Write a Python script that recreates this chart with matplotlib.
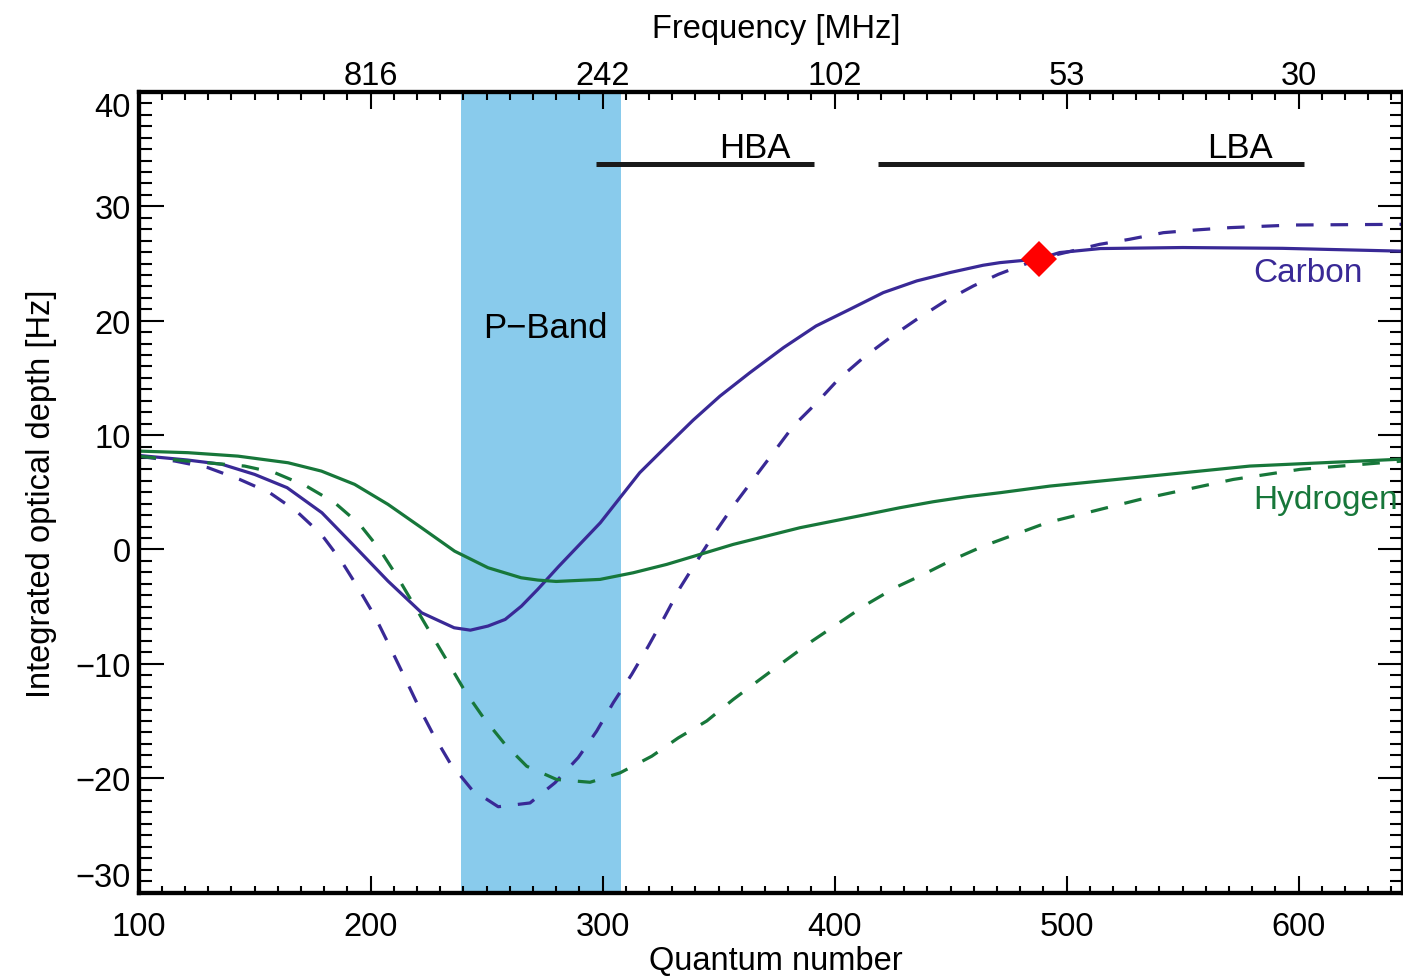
import matplotlib
matplotlib.use('Agg')
import matplotlib.pyplot as plt
from matplotlib.ticker import MultipleLocator

plt.rcParams['font.family'] = ['Liberation Sans', 'DejaVu Sans']

# carbon, solid line
c_solid_n = [100, 121, 136, 150, 164, 179, 193, 207.5, 222, 236, 243, 250.6, 258, 265, 272, 281, 299,
             307.5, 316, 327.6, 339, 350.6, 363.5, 378, 392, 406.6, 421, 435.4, 449.7, 464, 471.3,
             488, 497, 514.5, 550, 593, 645]
c_solid_v = [8.22, 7.82, 7.44, 6.56, 5.4, 3.21, 0.29, -2.77, -5.54, -6.85, -7.06, -6.7, -6.12, -4.96,
             -3.5, -1.5, 2.33, 4.52, 6.71, 9.04, 11.3, 13.41, 15.46, 17.65, 19.54, 21.0, 22.46, 23.48,
             24.21, 24.85, 25.08, 25.4, 25.96, 26.31, 26.4, 26.33, 26.08]

# carbon, dashed line
c_dash_n = [100, 115.6, 129.9, 143.6, 156.5, 168, 178.8, 187.4, 194.6, 201.8, 207.5, 214.1, 220.6, 227,
            234.2, 243.6, 255, 268.7, 279.5, 289.5, 297.4, 304.6, 312.5, 319.7, 326.9, 333.4, 340.6,
            348.4, 356.3, 364.9, 373.6, 382.2, 392.3, 401.6, 412.4, 423.9, 435.4, 447.7, 459.8,
            470.6, 488, 514.2, 527.1, 541.7, 556, 570.4, 597.7, 645]
c_dash_v = [8.15, 7.73, 7.15, 6.12, 4.96, 3.35, 1.31, -1.02, -3.35, -5.83, -8.17, -10.94, -13.7,
            -16.19, -18.66, -21.0, -22.5, -22.17, -20.4, -18.2, -15.9, -13.4, -10.94, -8.46, -5.83,
            -3.35, -1.02, 1.46, 3.79, 6.12, 8.46, 10.79, 12.83, 14.87, 16.77, 18.52, 20.12, 21.72,
            23.04, 24.06, 25.4, 26.68, 27.12, 27.7, 27.94, 28.14, 28.37, 28.43]

# hydrogen, solid line
h_solid_n = [100, 121.3, 142.8, 164.4, 178.8, 193.1, 207.5, 221.9, 236.2, 250.6, 264.9, 272.1, 280,
             298.9, 313.2, 327.6, 341.9, 356.3, 370.7, 385.1, 399.4, 413.8, 428.2, 442.5, 456.9,
             471.3, 492.8, 535.9, 579, 645]
h_solid_v = [8.6, 8.46, 8.16, 7.58, 6.85, 5.69, 3.94, 1.9, -0.15, -1.6, -2.48, -2.68, -2.8, -2.62,
             -2.04, -1.31, -0.44, 0.44, 1.17, 1.9, 2.48, 3.06, 3.65, 4.17, 4.61, 4.96, 5.54, 6.41,
             7.29, 7.9]

# hydrogen, dashed line
h_dash_n = [100, 120, 145.7, 158.7, 172.3, 184.5, 195.3, 203.9, 211.8, 219, 226.2, 233.5, 240.7,
            248.6, 258, 267.3, 280.2, 294.6, 307.5, 321.2, 332.6, 344.9, 356.3, 367.8, 376.5, 390,
            401, 413, 426, 438.2, 451.2, 464.1, 491.4, 531.6, 571.8, 600.6, 645]
h_dash_v = [8.15, 7.75, 7.29, 6.71, 5.54, 4.09, 2.19, 0.0, -2.48, -4.96, -7.44, -9.92, -12.4, -14.7,
            -17.06, -18.96, -20.12, -20.36, -19.54, -18.08, -16.48, -15.0, -13.12, -11.37, -10.06,
            -8.05, -6.55, -4.9, -3.35, -2.19, -0.87, 0.29, 2.33, 4.37, 6.12, 7.0, 7.73]

marker_n = [488]
marker_v = [25.4]

pband = [239, 308]
hba = [297, 391]
lba = [418.5, 602.5]
band_y = 33.7

bottom_ticks = [100, 200, 300, 400, 500, 600]
top_ticks = [200, 300, 400, 500, 600]
top_labels = ['816', '242', '102', '53', '30']
y_ticks = [-30, -20, -10, 0, 10, 20, 30, 40]

blue = '#392996'
green = '#17773A'

fig = plt.figure(figsize=(14.03, 9.78), dpi=100)
ax = fig.add_axes([0.0988, 0.0864, 0.9012, 0.8185])

ax.axvspan(pband[0], pband[1], color='#89CBEC', lw=0, zorder=0)

ax.plot(c_solid_n, c_solid_v, color=blue, lw=2.3)
ax.plot(c_dash_n, c_dash_v, color=blue, lw=2.3, dashes=(5.5, 5.3))
ax.plot(h_solid_n, h_solid_v, color=green, lw=2.3)
ax.plot(h_dash_n, h_dash_v, color=green, lw=2.3, dashes=(5.5, 5.3))
ax.plot(marker_n, marker_v, 'D', color='#FF0000', ms=18, mew=0, zorder=5)

ax.plot(hba, [band_y, band_y], color='#1a1a1a', lw=3.6, solid_capstyle='butt')
ax.plot(lba, [band_y, band_y], color='#1a1a1a', lw=3.6, solid_capstyle='butt')
ax.text(365.7, 34.3, 'HBA', fontsize=25, ha='center', va='baseline')
ax.text(574.8, 34.3, 'LBA', fontsize=25, ha='center', va='baseline')
ax.text(275.2, 18.55, 'P\u2212Band', fontsize=25, ha='center', va='baseline')
ax.text(580.5, 23.45, 'Carbon', fontsize=24, color=blue, ha='left', va='baseline')
ax.text(580.5, 3.6, 'Hydrogen', fontsize=24, color=green, ha='left', va='baseline')

ax.set_xlim(100, 645)
ax.set_ylim(-30, 40)
ax.set_xticks(bottom_ticks)
ax.set_yticks(y_ticks)
ax.xaxis.set_minor_locator(MultipleLocator(10))
ax.yaxis.set_minor_locator(MultipleLocator(1))
ax.tick_params(axis='x', which='both', direction='in', bottom=True, top=False, labelsize=23.5,
               pad=13, width=1.5)
ax.tick_params(axis='x', which='major', length=12)
ax.tick_params(axis='x', which='minor', length=5.4)
ax.tick_params(axis='y', which='both', direction='in', left=True, right=True, labelsize=23.5,
               pad=5.5, width=1.5)
ax.tick_params(axis='y', which='major', length=18)
ax.tick_params(axis='y', which='minor', length=9.4)

# end labels sit inside the axis range, as in the original
ylabels = ax.get_yticklabels()
ylabels[0].set_va('bottom')
ylabels[-1].set_va('top')

ax.set_xlabel('Quantum number', fontsize=23.5)
ax.xaxis.set_label_coords(0.504, -0.0656)
ax.set_ylabel('Integrated optical depth [Hz]', fontsize=23.5)
ax.yaxis.set_label_coords(-0.0645, 0.5)

ax2 = ax.twiny()
ax2.set_xlim(ax.get_xlim())
ax2.set_xticks(top_ticks, labels=top_labels)
ax2.xaxis.set_minor_locator(MultipleLocator(10))
ax2.tick_params(axis='x', which='both', direction='in', labelsize=23.5, pad=1, width=1.5)
ax2.tick_params(axis='x', which='major', length=12)
ax2.tick_params(axis='x', which='minor', length=5.4)
ax2.set_xlabel('Frequency [MHz]', fontsize=23.5)
ax2.xaxis.set_label_coords(0.504, 1.069)

for a in (ax, ax2):
    for s in a.spines.values():
        s.set_linewidth(3)

fig.savefig('out.png', dpi=100)
